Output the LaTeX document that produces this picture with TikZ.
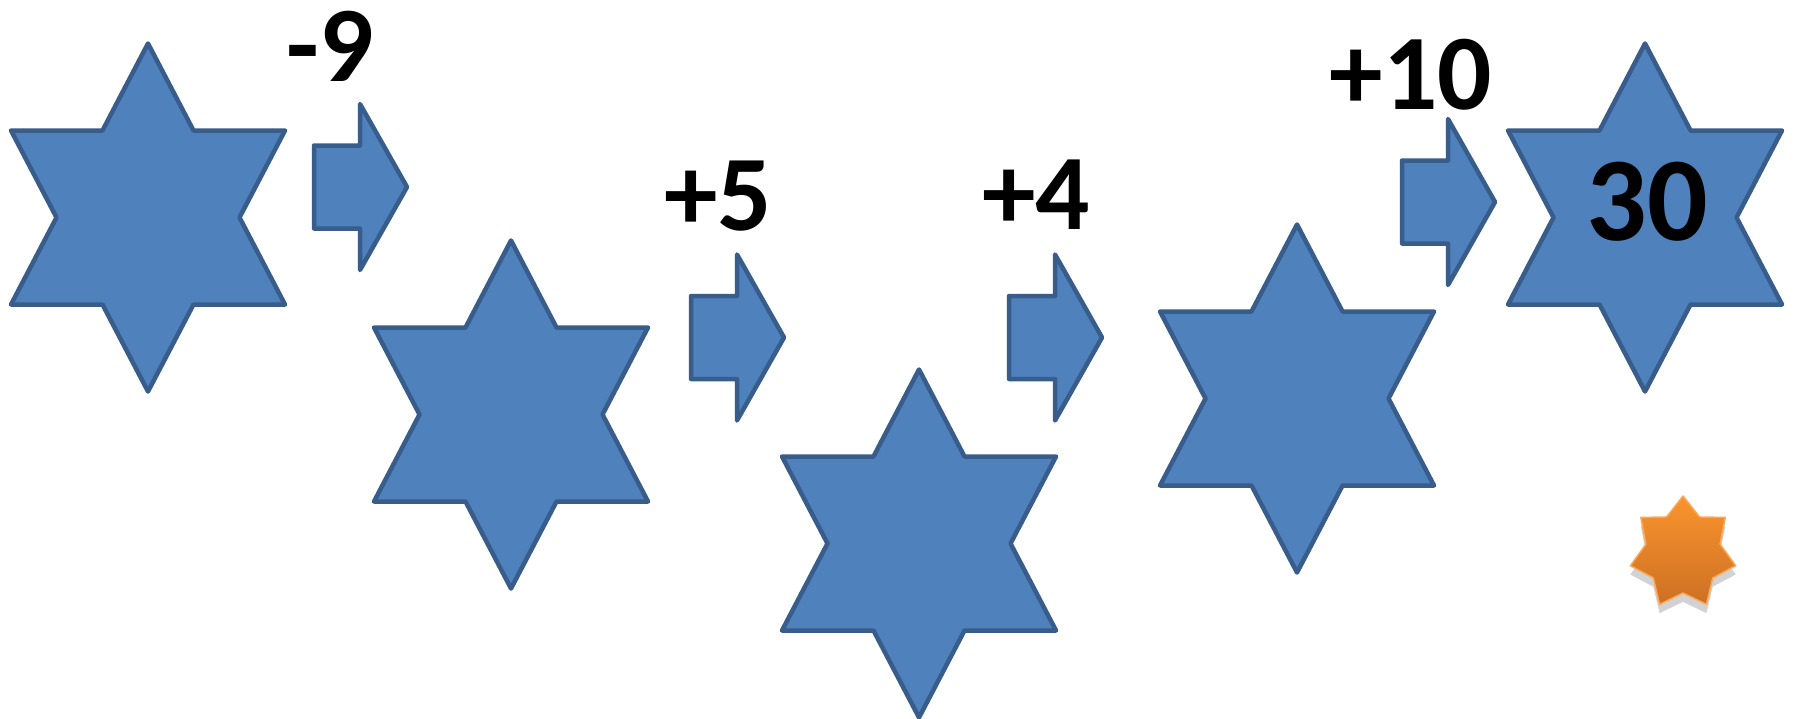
\documentclass[tikz,border=0pt]{standalone}
\usepackage{fontspec}
\setmainfont{Carlito}
\usetikzlibrary{shadows}

\definecolor{starblue}{HTML}{4F81BD}
\definecolor{starline}{HTML}{385D8A}
\definecolor{orangetop}{RGB}{250,148,46}
\definecolor{orangebot}{RGB}{205,112,35}

\tikzset{
    bluestar/.style={fill=starblue, draw=starline, line width=0.45mm, line join=round},
    blockarrow/.style={fill=starblue, draw=starline, line width=0.45mm, line join=round},
    steplabel/.style={font=\bfseries\fontsize{30.5}{36}\selectfont, inner sep=0pt},
}

\begin{document}
\begin{tikzpicture}[x=0.01cm, y=-0.01cm]
    \fill[white] (0,0) rectangle (1801,718);
    \useasboundingbox (0,0) rectangle (1801,718);
    % the five stars
    \foreach \cx/\cy in {148/217.5, 511/414.5, 919/543.5, 1297/398.5, 1645/217.5}
        \draw[bluestar, shift={(\cx,\cy)}] (0,-174) -- (45.5,-87) -- (137,-87) -- (91.5,0) -- (137,87) -- (45.5,87) -- (0,174) -- (-45.5,87) -- (-137,87) -- (-91.5,0) -- (-137,-87) -- (-45.5,-87) -- cycle;
    % the four block arrows
    \foreach \lx/\cy in {314/187, 691/337.5, 1009/337.5, 1402/202}
        \draw[blockarrow, shift={(\lx,\cy)}] (0,-41.5) -- (46,-41.5) -- (46,-83) -- (93,0) -- (46,83) -- (46,41.5) -- (0,41.5) -- cycle;
    \node[steplabel] (minus9) at (330,46) {-9};
    \node[steplabel] (plus5) at (718,196) {+5};
    \node[steplabel] (plus4) at (1036,195) {+4};
    \node[steplabel] (plus10) at (1411,74.5) {+10};
    \node[steplabel, font=\bfseries\fontsize{34}{40}\selectfont] (result) at (1647,202) {30};
    % small orange star
    \draw[shift={(1683,553)}, top color=orangetop, bottom color=orangebot, draw=orangetop!80!white, line width=0.15mm, line join=round,
          drop shadow={shadow xshift=0pt, shadow yshift=-2.5pt, opacity=0.35}]
        (-90:54 and 57) \foreach \i in {1,...,13} { -- ({-90+\i*180/7}:{ifthenelse(mod(\i,2)==0,54,38)} and {ifthenelse(mod(\i,2)==0,57,40)}) } -- cycle;
\end{tikzpicture}
\end{document}
